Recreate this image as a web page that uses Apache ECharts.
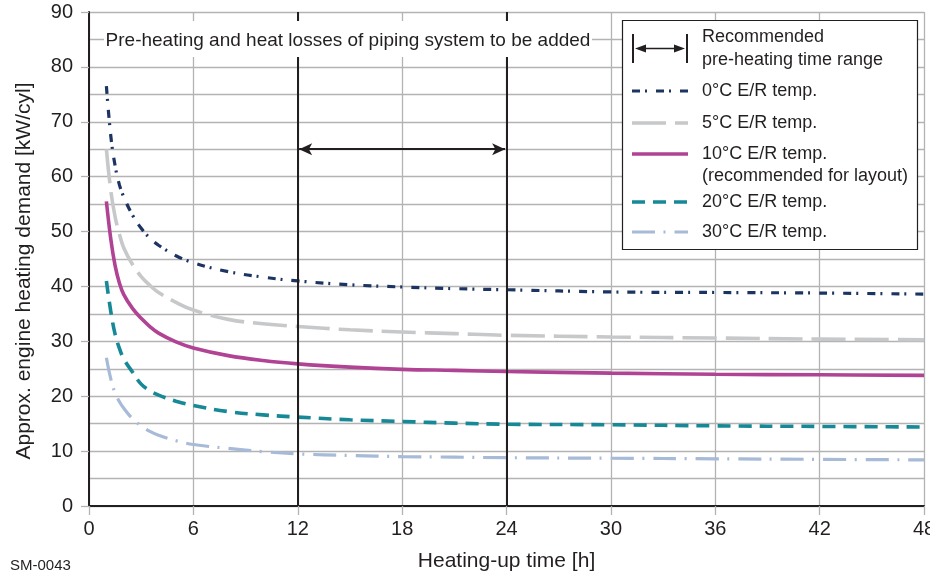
<!DOCTYPE html>
<html>
<head>
<meta charset="utf-8">
<script src="https://cdn.jsdelivr.net/npm/echarts@6/dist/echarts.min.js"></script>
<style>html,body{margin:0;padding:0;background:#fff}#c{width:930px;height:572px}</style>
</head>
<body>
<div id="c"></div>
<script>
// ---- data ----
const hours   = [1, 1.25, 1.5, 1.75, 2, 2.5, 3, 3.5, 4, 5, 6, 8, 10, 12, 15, 18, 21, 24, 30, 36, 42, 48];
const temp0C  = [76.5, 67.5, 62, 58.5, 56.3, 53, 50.6, 48.8, 47.5, 45.6, 44.3, 42.7, 41.7, 41, 40.3, 39.9, 39.6, 39.4, 39.0, 38.9, 38.8, 38.6];
const temp5C  = [65, 57.5, 52.7, 49.5, 47, 44, 41.8, 40.2, 38.9, 37.1, 35.7, 34, 33.2, 32.7, 32.1, 31.7, 31.4, 31.1, 30.8, 30.6, 30.4, 30.3];
const temp10C = [55.5, 48.7, 43.8, 40.6, 38.5, 36, 34.2, 32.7, 31.5, 29.9, 28.8, 27.4, 26.5, 25.9, 25.3, 24.9, 24.7, 24.5, 24.2, 24.0, 23.9, 23.8];
const temp20C = [41, 35.5, 31.3, 28.7, 26.8, 24.4, 22.2, 21, 20.2, 19.1, 18.3, 17.2, 16.6, 16.2, 15.7, 15.4, 15.1, 14.9, 14.8, 14.6, 14.5, 14.4];
const temp30C = [27, 23.2, 20.6, 19, 17.8, 15.9, 14.6, 13.6, 12.9, 11.9, 11.2, 10.5, 9.9, 9.5, 9.2, 9.0, 8.9, 8.8, 8.7, 8.6, 8.5, 8.4];
const seriesNames = ['0°C E/R temp.', '5°C E/R temp.', '10°C E/R temp.', '20°C E/R temp.', '30°C E/R temp.'];
const rangeStart = 12, rangeEnd = 24, rangeArrowValue = 65;
const xMin = 0, xMax = 48, xInterval = 6;
const yMin = 0, yMax = 90, yInterval = 10;
const noteText = 'Pre-heating and heat losses of piping system to be added';
const legendRangeText = ['Recommended', 'pre-heating time range'];
const legendNote10 = '(recommended for layout)';
const codeText = 'SM-0043';

// ---- styles ----
const FONT = '"Liberation Sans", Arial, Helvetica, sans-serif';
const INK = '#231f20';
const GRID = '#b3b3b3';
const styles = [
  { color: '#1c3461', width: 3.2, type: [8, 5, 2, 9] },
  { color: '#c6c8ca', width: 3.6, type: [34, 9] },
  { color: '#b04394', width: 3.6, type: 'solid' },
  { color: '#168896', width: 3.6, type: [13, 8] },
  { color: '#a7bad8', width: 3.2, type: [23, 8.5, 2, 9] }
];
const allValues = [temp0C, temp5C, temp10C, temp20C, temp30C];

const chart = echarts.init(document.getElementById('c'), null, { renderer: 'canvas' });

const series = allValues.map((vals, k) => ({
  name: seriesNames[k],
  type: 'line',
  data: hours.map((h, i) => [h, vals[i]]),
  smooth: 0.4,
  symbol: 'none',
  showSymbol: false,
  lineStyle: { color: styles[k].color, width: styles[k].width, type: styles[k].type, cap: 'butt' },
  z: 3
}));

series.push({
  type: 'line', data: [], symbol: 'none', silent: true, z: 4,
  markLine: {
    silent: true, animation: false, symbol: 'none',
    label: { show: false },
    lineStyle: { color: INK, width: 2, type: 'solid' },
    data: [{ xAxis: rangeStart }, { xAxis: rangeEnd }]
  }
});
series.push({
  type: 'line', data: [], symbol: 'none', silent: true, z: 4,
  markLine: {
    silent: true, animation: false, symbol: ['arrow', 'arrow'], symbolSize: [9, 13],
    label: { show: false },
    lineStyle: { color: INK, width: 2, type: 'solid' },
    data: [[{ coord: [rangeStart + 0.08, rangeArrowValue] }, { coord: [rangeEnd - 0.08, rangeArrowValue] }]]
  }
});

// legend graphic
const LX1 = 632, LX2 = 688, TX = 702;
const legendRows = [91, 123, 154, 202, 232];
const g = [];
g.push({ type: 'rect', shape: { x: 104, y: 21, width: 488, height: 36 }, style: { fill: '#fff' }, z: 100 });
g.push({ type: 'text', z: 101, style: { text: noteText, x: 348, y: 41, align: 'center', verticalAlign: 'middle', font: '19px ' + FONT, fill: INK } });
g.push({ type: 'rect', shape: { x: 622.5, y: 20.5, width: 295, height: 229 }, style: { fill: '#fff', stroke: INK, lineWidth: 1.2 }, z: 100 });
g.push({ type: 'line', z: 101, shape: { x1: 633, y1: 34, x2: 633, y2: 63 }, style: { stroke: INK, lineWidth: 2 } });
g.push({ type: 'line', z: 101, shape: { x1: 687, y1: 34, x2: 687, y2: 63 }, style: { stroke: INK, lineWidth: 2 } });
g.push({ type: 'line', z: 101, shape: { x1: 640, y1: 48.5, x2: 680, y2: 48.5 }, style: { stroke: INK, lineWidth: 1.6 } });
g.push({ type: 'polygon', z: 101, shape: { points: [[635, 48.5], [646, 44.5], [646, 52.5]] }, style: { fill: INK } });
g.push({ type: 'polygon', z: 101, shape: { points: [[685, 48.5], [674, 44.5], [674, 52.5]] }, style: { fill: INK } });
g.push({ type: 'text', z: 101, style: { text: legendRangeText[0], x: TX, y: 37, verticalAlign: 'middle', font: '18px ' + FONT, fill: INK } });
g.push({ type: 'text', z: 101, style: { text: legendRangeText[1], x: TX, y: 60, verticalAlign: 'middle', font: '18px ' + FONT, fill: INK } });
legendRows.forEach((y, k) => {
  const st = styles[k];
  g.push({ type: 'line', z: 101, shape: { x1: LX1, y1: y, x2: LX2, y2: y },
    style: { stroke: st.color, lineWidth: st.width, lineDash: st.type === 'solid' ? null : st.type } });
  g.push({ type: 'text', z: 101, style: { text: seriesNames[k], x: TX, y: y, verticalAlign: 'middle', font: '18px ' + FONT, fill: INK } });
});
g.push({ type: 'text', z: 101, style: { text: legendNote10, x: TX, y: 176, verticalAlign: 'middle', font: '18px ' + FONT, fill: INK } });
g.push({ type: 'text', z: 101, style: { text: codeText, x: 10, y: 566, verticalAlign: 'middle', font: '15px ' + FONT, fill: INK } });

chart.setOption({
  animation: false,
  backgroundColor: '#fff',
  textStyle: { fontFamily: FONT },
  grid: { left: 89, right: 6, top: 12, bottom: 66, containLabel: false, outerBoundsMode: 'none' },
  xAxis: {
    type: 'value', min: xMin, max: xMax, interval: xInterval,
    axisLine: { show: true, onZero: false, lineStyle: { color: INK, width: 2 } },
    axisTick: { show: true, length: 9, lineStyle: { color: GRID, width: 1.3 } },
    axisLabel: { fontSize: 20, color: INK, margin: 13, fontFamily: FONT },
    splitLine: { show: true, lineStyle: { color: GRID, width: 1.3 } },
    name: 'Heating-up time [h]', nameLocation: 'middle', nameGap: 45,
    nameTextStyle: { fontSize: 21, color: INK, fontFamily: FONT }
  },
  yAxis: {
    type: 'value', min: yMin, max: yMax, interval: yInterval,
    axisLine: { show: true, onZero: false, lineStyle: { color: INK, width: 2 } },
    axisTick: { show: true, length: 8, lineStyle: { color: GRID, width: 1.3 } },
    axisLabel: { fontSize: 20, color: INK, margin: 16, fontFamily: FONT },
    splitLine: { show: true, lineStyle: { color: GRID, width: 1.3 } },
    minorTick: { show: false, splitNumber: 2 },
    minorSplitLine: { show: true, lineStyle: { color: GRID, width: 1.3 } },
    name: 'Approx. engine heating demand [kW/cyl]', nameLocation: 'middle', nameGap: 54,
    nameTextStyle: { fontSize: 21, color: INK, fontFamily: FONT, padding: [0, 24, 0, 0] }
  },
  graphic: g,
  series: series
});
</script>
</body>
</html>
